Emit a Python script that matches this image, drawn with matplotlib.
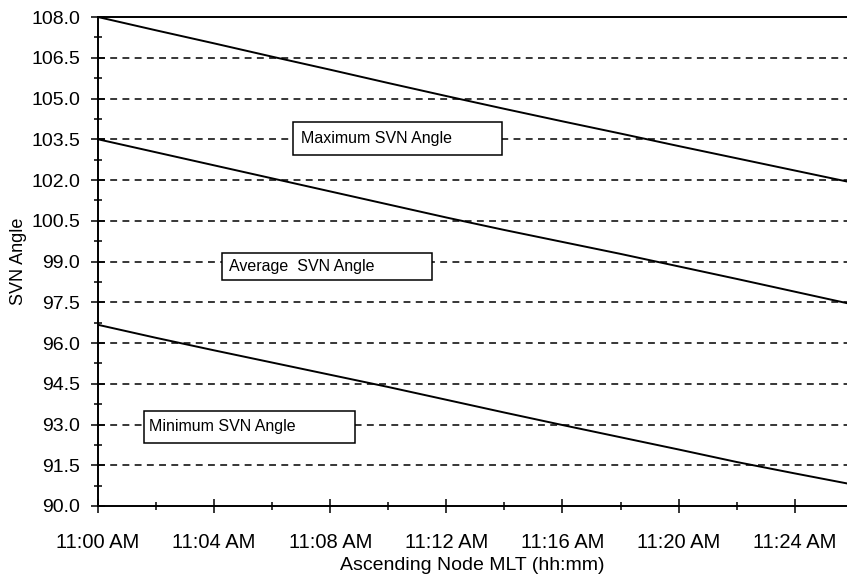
import matplotlib
matplotlib.use("Agg")
import matplotlib.pyplot as plt
from matplotlib.ticker import MultipleLocator, FuncFormatter
from matplotlib.patches import Rectangle

plt.rcParams['font.family'] = ['Liberation Sans', 'DejaVu Sans']

# Minutes after 11:00 AM (ascending node local time)
minutes = [0, 2, 4, 6, 8, 10, 12, 14, 16, 18, 20, 22, 24, 26]

max_svn = [108.00, 107.51, 107.03, 106.54, 106.06, 105.57, 105.09,
           104.62, 104.16, 103.71, 103.25, 102.80, 102.35, 101.90]
avg_svn = [103.50, 103.02, 102.54, 102.06, 101.58, 101.10, 100.62,
           100.16, 99.72, 99.28, 98.82, 98.36, 97.89, 97.42]
min_svn = [96.67, 96.19, 95.73, 95.28, 94.83, 94.38, 93.91,
           93.44, 92.98, 92.53, 92.08, 91.62, 91.20, 90.79]

series_labels = ["Maximum SVN Angle", "Average  SVN Angle", "Minimum SVN Angle"]

y_ticks = [90.0, 91.5, 93.0, 94.5, 96.0, 97.5, 99.0, 100.5,
           102.0, 103.5, 105.0, 106.5, 108.0]

fig = plt.figure(figsize=(8.47, 5.75), dpi=100)
ax = fig.add_axes([0.1157, 0.12, 0.8843, 0.8504])

# dashed horizontal reference lines
for yv in y_ticks[1:-1]:
    ax.axhline(yv, color='black', lw=1.1, linestyle=(0, (4.5, 3.5)), zorder=1)

for series in (max_svn, avg_svn, min_svn):
    ax.plot(minutes, series, color='black', lw=1.4, zorder=3)

ax.set_xlim(0, 25.8)
ax.set_ylim(90, 108)

ax.set_yticks(y_ticks)
ax.yaxis.set_minor_locator(MultipleLocator(0.75))
ax.xaxis.set_major_locator(MultipleLocator(4))
ax.xaxis.set_minor_locator(MultipleLocator(2))
ax.yaxis.set_major_formatter(FuncFormatter(lambda v, p: f"{v:.1f}"))
ax.xaxis.set_major_formatter(FuncFormatter(lambda v, p: f"11:{int(round(v)):02d} AM"))

ax.tick_params(axis='both', which='major', direction='inout', length=9.5,
               width=1.1, color='black')
ax.tick_params(axis='both', which='minor', direction='inout', length=6,
               width=1.1, color='black')
ax.tick_params(axis='y', which='major', pad=8, labelsize=14)
ax.tick_params(axis='x', which='major', pad=15, labelsize=14.5)

ax.spines['right'].set_visible(False)
for s in ('left', 'bottom', 'top'):
    ax.spines[s].set_linewidth(1.4)

ax.set_ylabel("SVN Angle", fontsize=13)
ax.yaxis.set_label_coords(-0.095, 0.5)
ax.set_xlabel("Ascending Node MLT (hh:mm)", fontsize=14)
ax.xaxis.set_label_coords(0.5, -0.104)

# annotation boxes (x0, x1, y0, y1, text x, text y) in data units
boxes = [
    (6.71, 13.91, 102.92, 104.13, 6.98, 103.54),
    (4.27, 11.50, 98.32, 99.31, 4.50, 98.80),
    (1.58, 8.85, 92.32, 93.50, 1.74, 92.91),
]
for (x0, x1, y0, y1, tx, ty), lab in zip(boxes, series_labels):
    ax.add_patch(Rectangle((x0, y0), x1 - x0, y1 - y0, facecolor='white',
                           edgecolor='black', lw=1.1, zorder=4))
    ax.text(tx, ty, lab, fontsize=11.5, ha='left', va='center', zorder=5)

fig.savefig("out.png", dpi=100)
